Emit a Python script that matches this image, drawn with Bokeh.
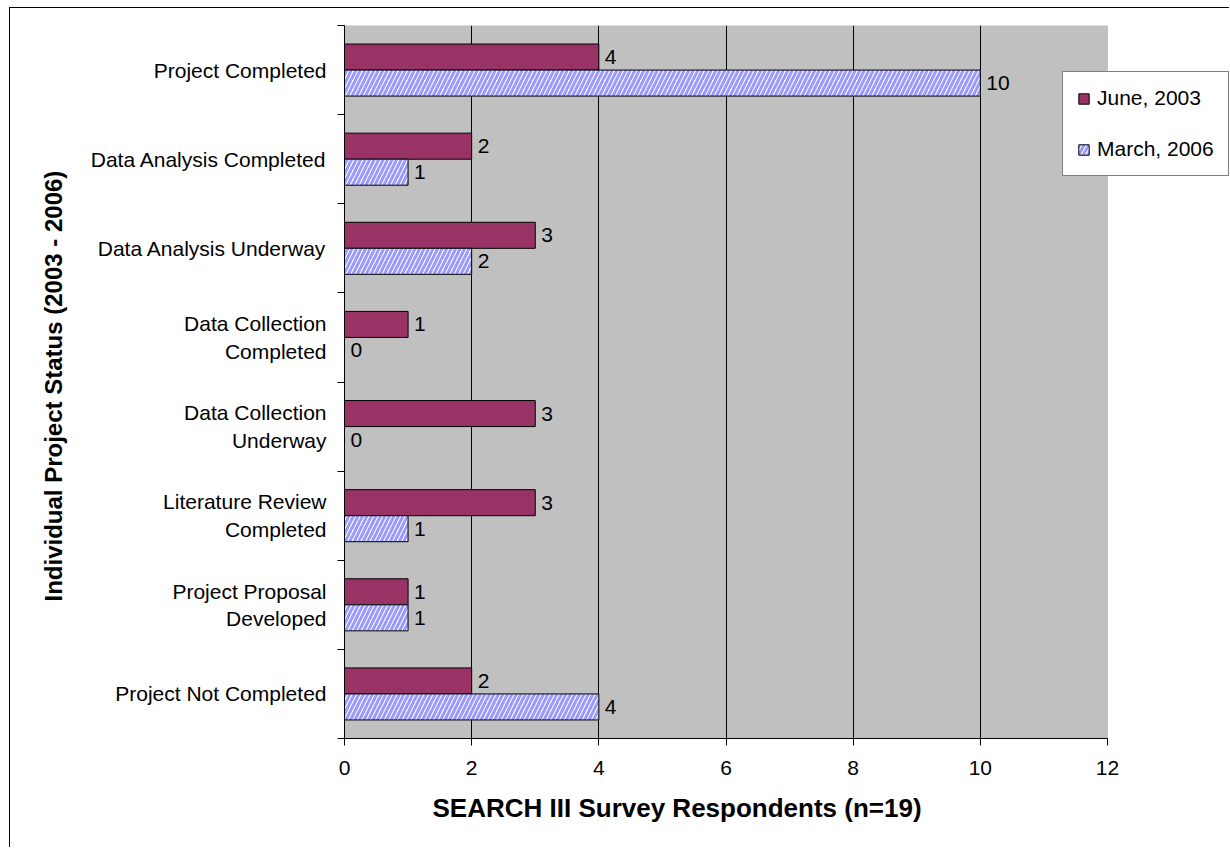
from bokeh.plotting import figure
from bokeh.models import (ColumnDataSource, Range1d, LinearAxis, FixedTicker,
                          Legend, LegendItem, Title, BoxAnnotation)
from bokeh.transform import dodge
from bokeh.core.properties import value
from bokeh.embed import file_html
from bokeh.resources import INLINE

# Project status categories, listed top to bottom
statuses = [
    "Project Completed",
    "Data Analysis Completed",
    "Data Analysis Underway",
    "Data Collection\nCompleted",
    "Data Collection\nUnderway",
    "Literature Review\nCompleted",
    "Project Proposal\nDeveloped",
    "Project Not Completed",
]
june_2003 = [4, 2, 3, 1, 3, 3, 1, 2]
march_2006 = [10, 1, 2, 0, 0, 1, 1, 4]
series_names = ["June, 2003", "March, 2006"]
x_ticks = [0, 2, 4, 6, 8, 10, 12]
X_MAX = 12

FONT = "Liberation Sans"
PLUM = "#993366"
HATCH_BLUE = "#9999FF"
PLOT_GREY = "#C0C0C0"

n = len(statuses)
# centre of each category band on a 0..n vertical scale (first status at the top)
band_centres = [n - i - 0.5 for i in range(n)]
band_edges = list(range(n + 1))

source = ColumnDataSource(dict(
    pos=band_centres,
    june=june_2003,
    march=march_2006,
    june_txt=[str(v) for v in june_2003],
    march_txt=[str(v) for v in march_2006],
))

# canvas geometry: the data area 0..12 is 763 px wide, the frame runs on to the
# right edge so that the legend can sit over the grey area and past it
LEFT, PLOT_W, CANVAS_W = 334, 763, 1220
frame_w = CANVAS_W - LEFT
x_end = X_MAX * frame_w / PLOT_W

p = figure(
    width=CANVAS_W, height=840,
    y_range=Range1d(0, n),
    x_range=Range1d(0, x_end),
    output_backend="svg", toolbar_location=None,
    y_axis_location=None,
    min_border_left=LEFT, min_border_right=0,
    min_border_top=17, min_border_bottom=110,
)
p.margin = (7, 0, 0, 9)
p.styles = {"border-left": "1px solid #000000", "border-top": "1px solid #000000"}

p.background_fill_color = "white"
p.border_fill_color = "white"
p.outline_line_color = None
p.ygrid.visible = False

# grey plot area behind grid and bars
p.add_layout(BoxAnnotation(
    left=0, right=X_MAX, bottom=0, top=n, level="image",
    fill_color=PLOT_GREY, fill_alpha=1, line_color="#808080", line_width=1,
))

# x axis
xa = p.xaxis[0]
xa.ticker = FixedTicker(ticks=x_ticks)
xa.bounds = (0, X_MAX)
xa.major_tick_out = 7
xa.major_tick_in = 0
xa.minor_tick_line_color = None
xa.axis_line_color = "black"
xa.major_tick_line_color = "black"
xa.major_label_text_font = FONT
xa.major_label_text_font_size = "21px"
xa.major_label_text_color = "black"
xa.major_label_standoff = 15

p.xgrid.ticker = FixedTicker(ticks=[2, 4, 6, 8, 10])
p.xgrid.grid_line_color = "black"
p.xgrid.grid_line_width = 1

# category names centred on each band, tick marks on the band edges
cat_axis = LinearAxis(
    ticker=FixedTicker(ticks=band_centres, minor_ticks=band_edges),
    major_label_overrides={c: s for c, s in zip(band_centres, statuses)},
    major_tick_line_color=None,
    major_tick_out=0, major_tick_in=0,
    minor_tick_line_color="black",
    minor_tick_out=7, minor_tick_in=0,
    axis_line_color="black",
    major_label_standoff=11,
    major_label_text_font=FONT,
    major_label_text_font_size="21px",
    major_label_text_color="black",
)
p.add_layout(cat_axis, "left")

bar_h = 0.292
off = bar_h / 2

r_june = p.hbar(
    y=dodge("pos", off), left=0, right="june", height=bar_h,
    fill_color=PLUM, line_color="black", line_width=1, source=source,
)
r_march = p.hbar(
    y=dodge("pos", -off), left=0, right="march", height=bar_h,
    fill_color="white", hatch_pattern="/", hatch_color=HATCH_BLUE,
    hatch_scale=9, hatch_weight=3,
    line_color="black", line_width=1, source=source,
)

# value labels next to bars
p.text(
    x="june", y=dodge("pos", off), text="june_txt",
    x_offset=6, text_baseline="middle", text_align="left",
    text_font=value(FONT), text_font_size="21px", text_color="black", source=source,
)
p.text(
    x="march", y=dodge("pos", -off), text="march_txt",
    x_offset=6, text_baseline="middle", text_align="left",
    text_font=value(FONT), text_font_size="21px", text_color="black", source=source,
)

legend = Legend(
    items=[LegendItem(label=series_names[0], renderers=[r_june]),
           LegendItem(label=series_names[1], renderers=[r_march])],
    location=(718, 562),
    border_line_color="black", border_line_width=1,
    background_fill_color="white", background_fill_alpha=1,
    label_text_font=FONT, label_text_font_size="21px", label_text_color="black",
    glyph_width=13, glyph_height=13, label_height=21,
    label_standoff=7, spacing=27, padding=14, margin=0,
)
p.add_layout(legend)

x_title = Title(
    text="SEARCH III Survey Respondents (n=19)", align="left", offset=88, standoff=27,
    text_font=FONT, text_font_size="26px", text_font_style="bold", text_color="black",
)
p.add_layout(x_title, "below")

y_title = Title(
    text="Individual Project Status (2003 - 2006)", align="left", offset=137, standoff=41,
    text_font=FONT, text_font_size="24px", text_font_style="bold", text_color="black",
)
p.add_layout(y_title, "left")

open("out.html", "w").write(file_html(p, INLINE))
